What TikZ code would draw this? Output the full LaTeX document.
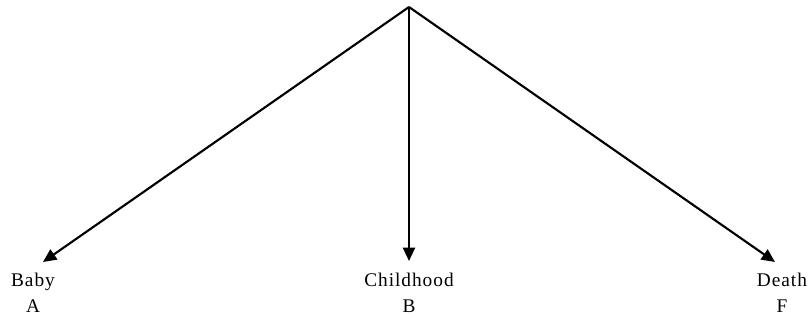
\documentclass[tikz,border=0pt]{standalone}
\usepackage{fontspec}
\newfontfamily\lblfont[LetterSpace=5]{Liberation Serif}
\usetikzlibrary{arrows.meta, positioning}
\tikzset{
  lbl/.style = {inner sep=0pt, anchor=north, align=center,
                font=\lblfont\fontsize{14.5}{19}\selectfont},
  arr/.style = {-{Triangle[length=10pt, width=9pt]}, line width=1.6pt},
}

\begin{document}
\begin{tikzpicture}[x=0.75pt, y=-0.75pt]
  \useasboundingbox (0,0) rectangle (811,325);

  %% Apex
  \coordinate (top) at (409,7);

  %% Stages
  \node[lbl] (baby)  at (33,273)  {Baby\\A};
  \node[lbl] (child) at (409,273) {Childhood\\B};
  \node[lbl] (death) at (782,273) {Death\\F};

  %% Arrows
  \draw[arr] (top) -- ([shift={(10,-11)}]baby.north);
  \draw[arr] (top) -- ([shift={(0,-12)}]child.north);
  \draw[arr] (top) -- ([shift={(-7,-11)}]death.north);
\end{tikzpicture}
\end{document}
